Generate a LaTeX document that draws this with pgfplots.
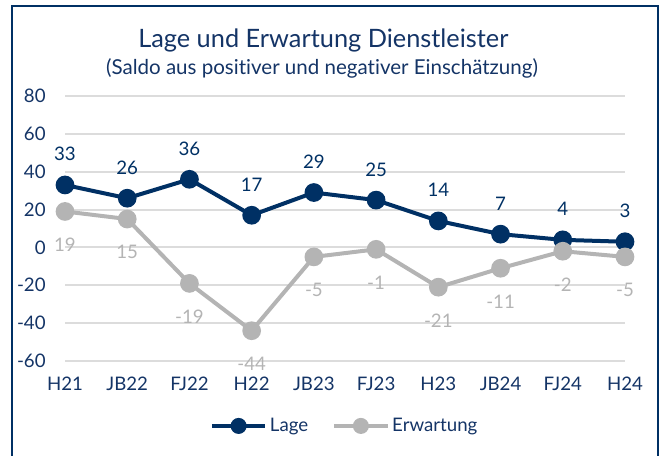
\documentclass[border=0pt]{standalone}
\usepackage{fontspec}
\setmainfont{Lato}[Ligatures={NoCommon,NoRare}]
\usepackage{pgfplots}
\pgfplotsset{compat=1.18}
\definecolor{navy}{RGB}{0,48,100}
\definecolor{grayl}{RGB}{180,180,180}
\definecolor{gridc}{RGB}{220,220,220}
\definecolor{txt}{RGB}{20,52,102}
\begin{document}
\begin{tikzpicture}
\useasboundingbox (0,0) rectangle (498pt,341.25pt);
\draw[navy, line width=1.5pt] (9pt,-20pt) rectangle (493.5pt,336.75pt);
\node[text=txt, anchor=base, font=\fontsize{19}{21}\selectfont] at (242.5pt,306pt) {Lage und Erwartung Dienstleister};
\node[text=txt, anchor=base, font=\fontsize{15.4}{17}\selectfont] at (241.5pt,285.75pt) {(Saldo aus positiver und negativer Einschätzung)};
\begin{axis}[
  at={(48.75pt,70.5pt)}, anchor=south west,
  scale only axis, width=420pt, height=198.75pt,
  xmin=0, xmax=9, ymin=-60, ymax=80,
  clip=false,
  axis line style={draw=none},
  major tick length=0pt,
  ytick={-60,-40,...,80},
  xtick={0,...,9},
  xticklabels={H21,JB22,FJ22,H22,JB23,FJ23,H23,JB24,FJ24,H24},
  ymajorgrids, grid style={gridc, line width=1.5pt},
  tick label style={text=txt, font=\fontsize{14}{16}\selectfont},
  /pgf/number format/assume math mode=true,
  yticklabel style={anchor=east, xshift=-11pt},
  xticklabel style={yshift=-8.5pt},
  legend style={at={(0.5,-0.245)}, anchor=center, draw=none, fill=none,
    legend columns=2, font=\fontsize{14}{16}\selectfont, text=txt,
    /tikz/every even column/.append style={column sep=16pt}},
  legend image code/.code={\draw[#1, mark repeat=2, mark phase=2, mark size=4.5pt] plot coordinates {(0pt,0pt)(20pt,0pt)(40pt,0pt)};},
]
\addplot[navy, line width=3pt, mark=*, mark size=5.5pt, mark options={solid},
  nodes near coords,
  every node near coord/.append style={text=navy, anchor=center, yshift=23pt, font=\fontsize{14}{16}\selectfont}]
  coordinates {(0,33)(1,26)(2,36)(3,17)(4,29)(5,25)(6,14)(7,7)(8,4)(9,3)};
\addlegendentry{Lage}
\addplot[grayl, line width=3pt, mark=*, mark size=5.5pt, mark options={solid},
  nodes near coords,
  every node near coord/.append style={text=grayl, anchor=center, yshift=-25pt, font=\fontsize{14}{16}\selectfont}]
  coordinates {(0,19)(1,15)(2,-19)(3,-44)(4,-5)(5,-1)(6,-21)(7,-11)(8,-2)(9,-5)};
\addlegendentry{Erwartung}
\end{axis}
\end{tikzpicture}
\end{document}
